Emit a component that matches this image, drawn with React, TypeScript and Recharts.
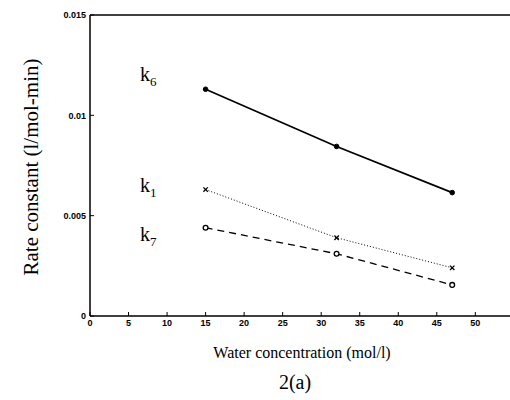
import { LineChart, Line, XAxis, YAxis } from "recharts";

// water concentration (mol/l)
const water = [15, 32, 47];
// rate constants (l/mol-min)
const k6 = [0.0113, 0.00845, 0.00615];
const k1 = [0.0063, 0.0039, 0.0024];
const k7 = [0.0044, 0.0031, 0.00155];

const xTicks = [0, 5, 10, 15, 20, 25, 30, 35, 40, 45, 50];
const yTicks = [0, 0.005, 0.01, 0.015];

const data = water.map((w, i) => ({ water: w, k6: k6[i], k1: k1[i], k7: k7[i] }));

const tickFont = {
  fontSize: 9,
  fontWeight: "bold",
  fill: "#000",
  fontFamily: "Liberation Sans, Arial, sans-serif",
};

const serif = "'Liberation Serif', 'Times New Roman', serif";

function DotFilled(props: any) {
  const { cx, cy } = props;
  return <circle cx={cx} cy={cy} r={2.3} fill="#000" stroke="#000" />;
}

function DotCross(props: any) {
  const { cx, cy } = props;
  const s = 2.2;
  return (
    <g stroke="#000" strokeWidth={1.3}>
      <line x1={cx - s} y1={cy - s} x2={cx + s} y2={cy + s} />
      <line x1={cx - s} y1={cy + s} x2={cx + s} y2={cy - s} />
    </g>
  );
}

function DotOpen(props: any) {
  const { cx, cy } = props;
  return <circle cx={cx} cy={cy} r={2.4} fill="#fff" stroke="#000" strokeWidth={1.3} />;
}

function KLabel({ x, y, sub }: { x: number; y: number; sub: string }) {
  return (
    <div
      style={{
        position: "absolute",
        left: x,
        top: y,
        fontFamily: serif,
        fontSize: 20,
        lineHeight: 1,
        color: "#000",
        whiteSpace: "nowrap",
      }}
    >
      k<span style={{ fontSize: 13, verticalAlign: -5 }}>{sub}</span>
    </div>
  );
}

export default function App() {
  return (
    <div style={{ position: "absolute", left: 0, top: 0, width: 510, height: 400, background: "#fff" }}>
      <LineChart
        width={510}
        height={400}
        data={data}
        margin={{ top: 5, right: 0, left: 0, bottom: 64 }}
      >
        <XAxis
          dataKey="water"
          type="number"
          domain={[0, 54.5]}
          ticks={xTicks}
          allowDataOverflow
          height={20}
          tickSize={-4}
          tickMargin={8}
          tickLine={{ stroke: "#000", strokeWidth: 1 }}
          tick={tickFont}
          stroke="#000"
          strokeWidth={1.5}
          interval={0}
        />
        <XAxis
          xAxisId="top"
          orientation="top"
          dataKey="water"
          type="number"
          domain={[0, 54.5]}
          ticks={xTicks}
          allowDataOverflow
          height={10}
          tickSize={-4}
          tick={false}
          tickLine={{ stroke: "#000", strokeWidth: 1 }}
          stroke="#000"
          strokeWidth={1.5}
          interval={0}
        />
        <YAxis
          type="number"
          domain={[0, 0.015]}
          ticks={yTicks}
          width={90}
          tickSize={-4}
          tickMargin={8}
          tickLine={{ stroke: "#000", strokeWidth: 1 }}
          tick={tickFont}
          tickFormatter={(v: number) => String(v)}
          stroke="#000"
          strokeWidth={1.5}
          interval={0}
        />
        <Line
          dataKey="k6"
          stroke="#000"
          strokeWidth={1.7}
          dot={<DotFilled />}
          isAnimationActive={false}
        />
        <Line
          dataKey="k1"
          stroke="#000"
          strokeWidth={1}
          strokeDasharray="1 2"
          dot={<DotCross />}
          isAnimationActive={false}
        />
        <Line
          dataKey="k7"
          stroke="#000"
          strokeWidth={1.3}
          strokeDasharray="7 5"
          dot={<DotOpen />}
          isAnimationActive={false}
        />
      </LineChart>

      <KLabel x={140} y={64} sub="6" />
      <KLabel x={140} y={175} sub="1" />
      <KLabel x={140} y={224} sub="7" />

      <div
        style={{
          position: "absolute",
          left: 31,
          top: 167,
          transform: "translate(-50%, -50%) rotate(-90deg)",
          fontFamily: serif,
          fontSize: 21,
          whiteSpace: "nowrap",
          color: "#000",
        }}
      >
        Rate constant (l/mol-min)
      </div>
      <div
        style={{
          position: "absolute",
          left: 302,
          top: 353,
          transform: "translate(-50%, -50%)",
          fontFamily: serif,
          fontSize: 16,
          whiteSpace: "nowrap",
          color: "#000",
        }}
      >
        Water concentration (mol/l)
      </div>
      <div
        style={{
          position: "absolute",
          left: 295,
          top: 382,
          transform: "translate(-50%, -50%)",
          fontFamily: serif,
          fontSize: 20,
          whiteSpace: "nowrap",
          color: "#000",
        }}
      >
        2(a)
      </div>
    </div>
  );
}
